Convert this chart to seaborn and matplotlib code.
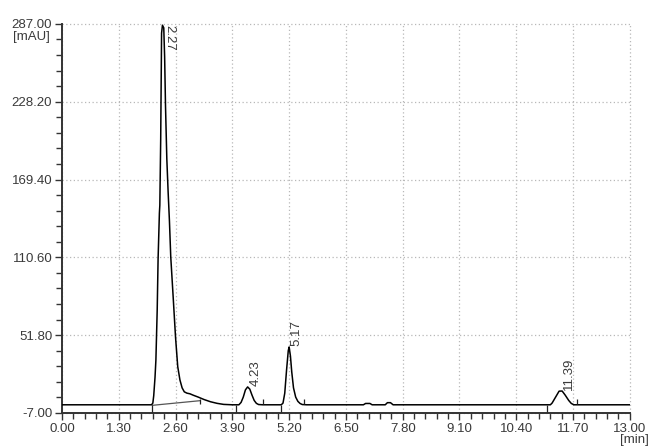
import matplotlib
matplotlib.use("Agg")
import matplotlib.pyplot as plt
import numpy as np
import pandas as pd
import seaborn as sns
from matplotlib.ticker import AutoMinorLocator, FormatStrFormatter

# ── Data ───────────────────────────────────────────────────────────────────
time_min = [
    0.00, 1.90, 2.05, 2.08, 2.10, 2.13, 2.15, 2.18, 2.20, 2.23,
    2.24, 2.26, 2.27, 2.28, 2.30, 2.33, 2.35, 2.37, 2.40, 2.43,
    2.46, 2.49, 2.55, 2.60, 2.65, 2.70, 2.75, 2.80, 2.86, 2.93,
    3.00, 3.12, 3.25, 3.40, 3.55, 3.70, 3.90,
    4.05, 4.10, 4.15, 4.20, 4.25, 4.30, 4.35, 4.40, 4.45, 4.50, 4.60,
    5.02, 5.06, 5.10, 5.14, 5.18, 5.20, 5.23, 5.26, 5.30, 5.35, 5.40,
    5.45, 5.50, 5.60,
    6.90, 6.95, 7.05, 7.10, 7.40, 7.45, 7.52, 7.58,
    11.18, 11.22, 11.30, 11.38, 11.45, 11.52, 11.60, 11.66, 11.72, 13.00,
]
signal_mau = [
    -0.8, -0.8, -0.8, 0.5, 6.0, 20.0, 33.0, 71.0, 109.0, 144.0,
    150.0, 200.0, 240.0, 280.0, 286.0, 284.0, 262.0, 225.0, 185.0, 160.0,
    138.0, 111.0, 78.0, 50.0, 28.0, 18.0, 12.0, 9.0, 8.0, 7.5,
    6.5, 5.0, 3.2, 1.5, 0.3, -0.5, -0.8,
    -0.8, 1.0, 5.0, 10.5, 12.7, 11.0, 6.5, 2.5, 0.3, -0.6, -0.8,
    -0.8, 0.5, 8.0, 25.0, 40.0, 42.9, 36.0, 24.0, 12.0, 5.0, 1.8,
    0.2, -0.6, -0.8,
    -0.8, 0.2, 0.2, -0.8, -0.8, 0.8, 0.8, -0.8,
    -0.8, 0.5, 5.0, 9.5, 9.6, 6.5, 2.5, 0.2, -0.8, -0.8,
]

# peak labels: retention time, apex position
peak_labels = ["2.27", "4.23", "5.17", "11.39"]
peak_x = [2.30, 4.25, 5.20, 11.42]
peak_y = [286.0, 12.7, 42.9, 9.6]

# integration marks
int_base_x = [2.07, 3.16]
int_base_y = [-1.2, 2.3]
start_marks = [2.07, 3.98, 5.01, 11.10]
end_marks = [3.16, 4.60, 5.54, 11.80]

x_ticks = [0.00, 1.30, 2.60, 3.90, 5.20, 6.50, 7.80, 9.10, 10.40, 11.70, 13.00]
y_ticks = [-7.00, 51.80, 110.60, 169.40, 228.20, 287.00]

# ── Style ──────────────────────────────────────────────────────────────────
sns.set_theme(style="white")
plt.rcParams["font.family"] = ["Liberation Sans", "DejaVu Sans"]
TEXT = "#3a3a3a"
GRID = "#b8b8b8"

fig = plt.figure(figsize=(6.49, 4.46), dpi=100)
ax = fig.add_axes([0.0955, 0.074, 0.875, 0.8725])

df = pd.DataFrame({"time": time_min, "mAU": signal_mau})
sns.lineplot(data=df, x="time", y="mAU", ax=ax, color="black", lw=1.1,
             sort=False, estimator=None, zorder=3)

# integration baseline + start/end ticks
ax.plot(int_base_x, int_base_y, color="#555555", lw=0.9, zorder=2)
ax.vlines(start_marks, -6.2, -1.0, color="#222222", lw=0.9, zorder=3)
ax.vlines(end_marks, -0.2, 3.2, color="#222222", lw=0.9, zorder=3)

# peak labels
for lab, px, py in zip(peak_labels, peak_x, peak_y):
    if py > 200:
        ax.text(px + 0.02, py, lab, rotation=270, ha="left", va="top",
                fontsize=9.5, color=TEXT, zorder=4)
    else:
        ax.text(px + 0.04, py + 1.0, lab, rotation=90, ha="left", va="bottom",
                fontsize=9.5, color=TEXT, zorder=4)

# axes
ax.set_xlim(0, 13)
ax.set_ylim(-7, 287)
ax.set_xticks(x_ticks)
ax.set_yticks(y_ticks)
ax.xaxis.set_major_formatter(FormatStrFormatter("%.2f"))
ax.yaxis.set_major_formatter(FormatStrFormatter("%.2f"))
ax.xaxis.set_minor_locator(AutoMinorLocator(5))
ax.yaxis.set_minor_locator(AutoMinorLocator(5))
ax.tick_params(axis="both", which="major", direction="out", length=5, width=1,
               color="#333333", labelsize=9.5, labelcolor=TEXT, pad=2,
               bottom=True, left=True)
ax.tick_params(axis="both", which="minor", direction="out", length=4, width=1,
               color="#333333", bottom=True, left=True)
ax.set_xlabel("")
ax.set_ylabel("")

ax.grid(True, which="major", color=GRID, linestyle=(0, (1, 2)), lw=0.9)
for g in ax.get_xgridlines() + ax.get_ygridlines():
    g.set_clip_on(False)

for side in ["top", "right"]:
    ax.spines[side].set_visible(False)
for side in ["left", "bottom"]:
    ax.spines[side].set_color("#333333")
    ax.spines[side].set_linewidth(1.4)

# unit labels
ax.annotate("[mAU]", xy=(0, 287), xycoords="data", xytext=(-35, -5),
            textcoords="offset points", ha="left", va="top",
            fontsize=9.5, color=TEXT, annotation_clip=False)
ax.annotate("[min]", xy=(13, -7), xycoords="data", xytext=(-7, -15),
            textcoords="offset points", ha="left", va="top",
            fontsize=9.5, color=TEXT, annotation_clip=False)

fig.savefig("out.png", dpi=100)
